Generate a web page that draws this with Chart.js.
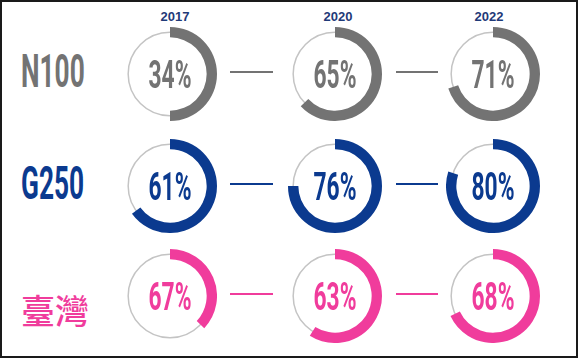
<!DOCTYPE html>
<html lang="zh-Hant">
<head>
  <meta charset="UTF-8">
  <title>N100 / G250 / 臺灣</title>
  <script src="https://cdn.jsdelivr.net/npm/chart.js"></script>
  <style>
    body { margin: 0; padding: 0; background: #fff; font-family: "Liberation Sans", Arial, sans-serif; }
    .frame { position: relative; width: 578px; height: 358px; background: #fff; overflow: hidden; }
    .border { position: absolute; left: 0; top: 0; width: 578px; height: 358px; box-sizing: border-box;
      border: 2px solid #1a1a1a; }
    .year { position: absolute; width: 60px; margin-left: -30px; text-align: center; top: 9px;
      font-size: 13px; font-weight: bold; color: #1f3a78; }
    .ring { position: absolute; }
    .pct, .group {
      position: absolute; text-align: center; white-space: nowrap;
      font-family: Roboto, sans-serif; font-weight: bold;
    }
    .pct { width: 100px; margin-left: -50px; font-size: 38px; line-height: 40px; margin-top: -20px;
      transform: scaleX(0.6); }
    .group { left: 0; width: 98px; font-size: 46px; line-height: 46px; margin-top: -23px;
      transform: scaleX(0.57); }
    .group.cjk { left: 6px; font-family: "Noto Sans CJK TC", sans-serif; font-weight: 500; font-size: 34px; transform: none; }
    .dash { position: absolute; height: 2px; }
  </style>
</head>
<body>
  <div class="frame" id="frame"><div class="border"></div></div>

  <script>
    const years = ['2017', '2020', '2022'];
    const groups = ['N100', 'G250', '臺灣'];

    // printed percentages
    const pctN100 = [34, 65, 71];
    const pctG250 = [61, 76, 80];
    const pctTaiwan = [67, 63, 68];

    // share of the ring that is filled, as drawn in the picture
    const arcN100 = [50, 63, 70];
    const arcG250 = [65, 75, 80];
    const arcTaiwan = [37, 59, 68];

    const pcts = [pctN100, pctG250, pctTaiwan];
    const arcs = [arcN100, arcG250, arcTaiwan];
    const colors = ['#737373', '#0b3a8f', '#f03c9c'];

    const colX = [170, 335, 493];
    const rowY = [74, 186, 296];
    const yearX = [175, 338, 489];
    const size = 94;

    const frame = document.getElementById('frame');

    // thin grey guide circle under the coloured arc
    const guideCircle = {
      id: 'guideCircle',
      beforeDatasetsDraw(chart) {
        const arc = chart.getDatasetMeta(0).data[0];
        if (!arc) return;
        const ctx = chart.ctx;
        const r = (arc.innerRadius + arc.outerRadius) / 2;
        ctx.save();
        ctx.beginPath();
        ctx.arc(arc.x, arc.y, r, 0, Math.PI * 2);
        ctx.strokeStyle = '#c4c4c4';
        ctx.lineWidth = 1.5;
        ctx.stroke();
        ctx.restore();
      }
    };

    years.forEach((y, j) => {
      const d = document.createElement('div');
      d.className = 'year';
      d.style.left = yearX[j] + 'px';
      d.textContent = y;
      frame.appendChild(d);
    });

    groups.forEach((g, i) => {
      const lab = document.createElement('div');
      lab.className = 'group' + (i === 2 ? ' cjk' : '');
      lab.style.top = (rowY[i] + (i === 2 ? 14 : -3)) + 'px';
      lab.style.color = colors[i];
      lab.textContent = g;
      frame.appendChild(lab);

      for (let j = 0; j < 3; j++) {
        const c = document.createElement('canvas');
        c.className = 'ring';
        c.width = size; c.height = size;
        c.style.left = (colX[j] - size / 2) + 'px';
        c.style.top = (rowY[i] - size / 2) + 'px';
        frame.appendChild(c);

        new Chart(c.getContext('2d'), {
          type: 'doughnut',
          data: {
            labels: [g + ' ' + years[j], ''],
            datasets: [{
              data: [arcs[i][j], 100 - arcs[i][j]],
              backgroundColor: [colors[i], 'rgba(0,0,0,0)'],
              borderWidth: 0
            }]
          },
          options: {
            responsive: false,
            animation: false,
            cutout: '78%',
            layout: { padding: 0 },
            plugins: { legend: { display: false }, tooltip: { enabled: false } }
          },
          plugins: [guideCircle]
        });

        const t = document.createElement('div');
        t.className = 'pct';
        t.style.left = colX[j] + 'px';
        t.style.top = (rowY[i] + 1) + 'px';
        t.style.color = colors[i];
        t.textContent = pcts[i][j] + '%';
        frame.appendChild(t);

        if (j < 2) {
          const dash = document.createElement('div');
          dash.className = 'dash';
          dash.style.background = colors[i];
          dash.style.left = (j === 0 ? 230 : 396) + 'px';
          dash.style.width = (j === 0 ? 43 : 42) + 'px';
          dash.style.top = (rowY[i] - 3) + 'px';
          frame.appendChild(dash);
        }
      }
    });
  </script>
</body>
</html>
